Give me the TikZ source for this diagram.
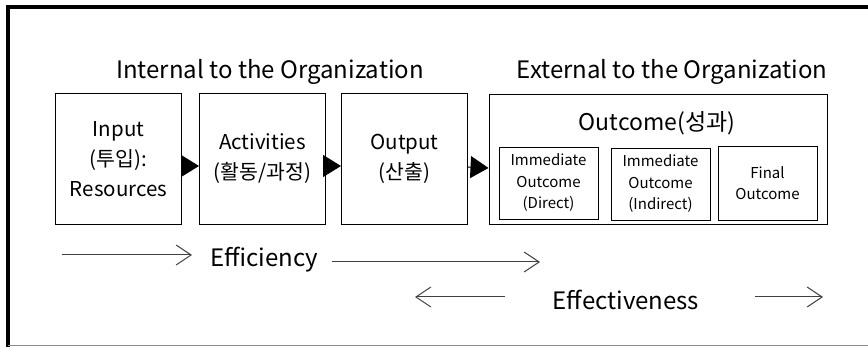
\documentclass[tikz,border=0pt]{standalone}
\usepackage{fontspec}
\setmainfont{Noto Sans CJK KR}
\usetikzlibrary{arrows.meta}

\tikzset{
  box/.style={draw, line width=1pt, align=center, inner sep=0pt,
    font=\fontsize{20.5}{30}\selectfont},
  subbox/.style={draw, line width=0.9pt, align=center, inner sep=0pt,
    minimum width=99pt, minimum height=72pt, font=\fontsize{15}{21.5}\selectfont},
  head/.style={font=\fontsize{24}{28}\selectfont},
  flow/.style={line width=1pt, -{Triangle[length=18pt,width=22pt]}},
  span/.style={line width=1pt, black!75, -{Straight Barb[length=15pt,width=20pt]}}
}

\begin{document}
\begin{tikzpicture}[x=1pt,y=-1pt]
  \useasboundingbox (0,0) rectangle (868,347);
  % frame
  \draw[line width=4pt] (8,347) -- (8,7.5) -- (868,7.5);
  \draw[black!45, line width=1.5pt] (8,345.5) -- (868,345.5);

  \node[head] (internal) at (270,72) {Internal to the Organization};
  \node[head] (external) at (672,72) {External to the Organization};

  % main chain
  \node[box, minimum width=126pt, minimum height=131pt] (input) at (118.5,159) {Input\\(투입):\\Resources};
  \node[box, minimum width=126pt, minimum height=131pt] (activities) at (262.5,159) {Activities\\(활동/과정)};
  \node[box, minimum width=126pt, minimum height=131pt] (output) at (404.5,159) {Output\\(산출)};
  \node[box, minimum width=338pt, minimum height=130pt] (outcome) at (658,160) {};
  \node[font=\fontsize{23}{26}\selectfont] (outtitle) at (657,123) {Outcome(성과)};

  \node[subbox] (direct) at (548.5,183) {Immediate\\Outcome\\(Direct)};
  \node[subbox] (indirect) at (660.5,184) {Immediate\\Outcome\\(Indirect)};
  \node[subbox, minimum height=74pt] (final) at (767.5,183) {Final\\Outcome};

  \draw[flow] ([yshift=-7pt]input.east) -- ([yshift=-7pt]activities.west);
  \draw[flow] ([yshift=-7pt]activities.east) -- ([yshift=-7pt]output.west);
  \draw[flow] ([yshift=-8pt]output.east) -- ([yshift=-8pt]outcome.west);

  % efficiency / effectiveness
  \node[head] (efficiency) at (264,260) {Efficiency};
  \node[head] (effectiveness) at (626,300) {Effectiveness};
  \coordinate (ef1) at (62,255);
  \coordinate (ef2) at (192,255);
  \coordinate (ef3) at (332,262);
  \coordinate (ef4) at (540,262);
  \coordinate (ev1) at (505,297);
  \coordinate (ev2) at (415,297);
  \coordinate (ev3) at (755,297);
  \coordinate (ev4) at (823,297);
  \draw[span] (ef1) -- (ef2);
  \draw[span] (ef3) -- (ef4);
  \draw[span] (ev1) -- (ev2);
  \draw[span] (ev3) -- (ev4);
\end{tikzpicture}
\end{document}
